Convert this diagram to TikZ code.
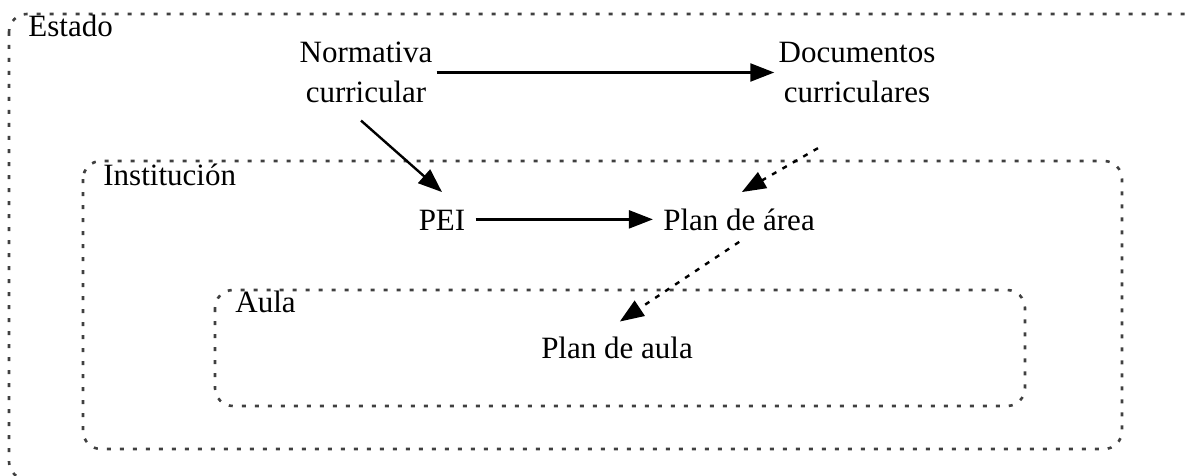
\documentclass[tikz,border=0pt]{standalone}
\usepackage{fontspec}
\setmainfont{Liberation Serif}
\usetikzlibrary{arrows.meta}

\begin{document}
\begin{tikzpicture}[x=0.5pt,y=-0.5pt,
        region/.style={draw=black!75,line width=1.3pt,dash pattern=on 2pt off 4.5pt,rounded corners=9pt},
        txt/.style={font=\fontsize{15.5}{20}\selectfont,inner sep=2pt,align=center},
        boxname/.style={txt,inner sep=0pt,anchor=base west},
        arr/.style={line width=1.2pt,-{Triangle[length=12pt,width=9pt]}},
        dotarr/.style={arr,dash pattern=on 2.5pt off 3.5pt}]
                \useasboundingbox (0, 0) rectangle (1188, 476);
                \clip (0, 0) rectangle (1188, 476);

                % the three levels
                \draw[region] (9, 14) rectangle (1205, 479.5);
                \draw[region] (83, 161) rectangle (1122, 449);
                \draw[region] (215, 290) rectangle (1025, 406);

                \node[boxname] (estado) at (28, 37) {Estado};
                \node[boxname] (inst) at (103, 185) {Institución};
                \node[boxname] (aula) at (235, 312) {Aula};

                \node[txt] (norm) at (366, 72.5) {Normativa\\curricular};
                \node[txt] (doc) at (857, 72.5) {Documentos\\curriculares};
                \node[txt,anchor=base] (pei) at (442, 230) {PEI};
                \node[txt,anchor=base] (area) at (739, 230) {Plan de área};
                \node[txt,anchor=base] (plan) at (617, 358) {Plan de aula};

                \draw[arr] (norm.east) -- (doc.west);
                \draw[arr,shorten <=10pt,shorten >=10pt] ([xshift=-10pt]norm.south) -- ([xshift=7.5pt]pei.north);
                \draw[arr,shorten <=3pt,shorten >=3pt] (pei.east |- area.west) -- (area.west);
                \draw[dotarr,shorten <=41pt,shorten >=12pt] ([xshift=16pt]doc.south) -- ([xshift=-9pt]area.north);
                \draw[dotarr,shorten <=6.5pt,shorten >=9.5pt] ([xshift=5.5pt]area.south) -- ([xshift=-6.5pt]plan.north);

            \end{tikzpicture}
\end{document}
